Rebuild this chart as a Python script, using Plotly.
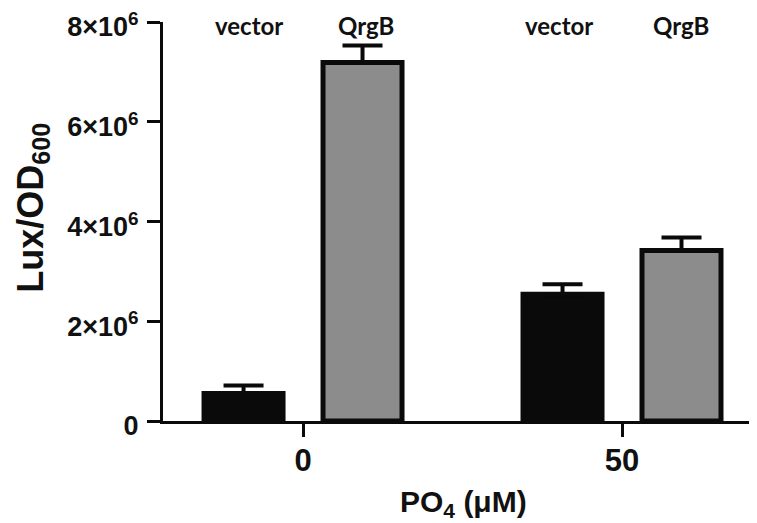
import plotly.graph_objects as go

categories = ["0", "50"]
series_names = ["vector", "QrgB"]
vector_vals = [0.55e6, 2.54e6]
vector_err = [0.16e6, 0.20e6]
qrgb_vals = [7.19e6, 3.42e6]
qrgb_err = [0.34e6, 0.26e6]
ytick_vals = [0, 2e6, 4e6, 6e6, 8e6]
ytick_text = ["0", "2×10<sup>6</sup>", "4×10<sup>6</sup>", "6×10<sup>6</sup>", "8×10<sup>6</sup>"]

FONT = "Liberation Sans, Arial, sans-serif"

fig = go.Figure()
fig.add_trace(go.Bar(
    x=categories, y=vector_vals, name=series_names[0],
    marker=dict(color="#0a0a0a", line=dict(color="#0a0a0a", width=5)),
    error_y=dict(type="data", array=vector_err, arrayminus=[0, 0], symmetric=False,
                 color="#0a0a0a", thickness=4, width=20),
))
fig.add_trace(go.Bar(
    x=categories, y=qrgb_vals, name=series_names[1],
    marker=dict(color="#8c8c8c", line=dict(color="#0a0a0a", width=5)),
    error_y=dict(type="data", array=qrgb_err, arrayminus=[0, 0], symmetric=False,
                 color="#0a0a0a", thickness=4, width=20),
))

# series labels above bars
label_pos = [(0.143, series_names[0]), (0.338, series_names[1]),
             (0.660, series_names[0]), (0.863, series_names[1])]
for px, txt in label_pos:
    fig.add_annotation(x=px, y=0.99, xref="paper", yref="paper", text=txt,
                       showarrow=False, xanchor="center", yanchor="middle",
                       font=dict(family="Lato, Open Sans, sans-serif", size=24,
                                 color="#111", weight="bold"))

fig.add_annotation(x=-0.218, y=0.535, xref="paper", yref="paper",
                   text="Lux/OD<sub>600</sub>", textangle=-90, showarrow=False,
                   xanchor="center", yanchor="middle",
                   font=dict(family=FONT, size=36, color="#111", weight="bold"))

fig.add_annotation(x=0.5, y=-0.207, xref="paper", yref="paper",
                   text="PO<sub>4</sub> (μM)", showarrow=False,
                   xanchor="center", yanchor="middle",
                   font=dict(family=FONT, size=30, color="#111", weight="bold"))

fig.update_layout(
    width=757, height=523,
    margin=dict(l=155, r=2, t=14, b=110),
    paper_bgcolor="white", plot_bgcolor="white",
    barmode="group", bargap=0.254, bargroupgap=0.336,
    showlegend=False,
    font=dict(family=FONT, color="#111"),
)
fig.update_xaxes(
    range=[-0.439, 1.442], showline=True, linecolor="#0a0a0a", linewidth=3,
    ticks="outside", ticklen=13, tickwidth=3, tickcolor="#0a0a0a",
    showgrid=False, zeroline=False, ticklabelstandoff=-3, automargin=False,
    tickfont=dict(family=FONT, size=31, color="#111", weight="bold"),
)
fig.update_yaxes(
    range=[0, 8e6], tickvals=ytick_vals, ticktext=ytick_text,
    showline=True, linecolor="#0a0a0a", linewidth=3,
    ticks="outside", ticklen=13, tickwidth=3, tickcolor="#0a0a0a",
    showgrid=False, zeroline=False, ticklabelstandoff=3, automargin=False,
    ticklabeloverflow="allow", ticklabelshift=5,
    tickfont=dict(family=FONT, size=27, color="#111", weight="bold"),
)

fig.write_html("out.html")
